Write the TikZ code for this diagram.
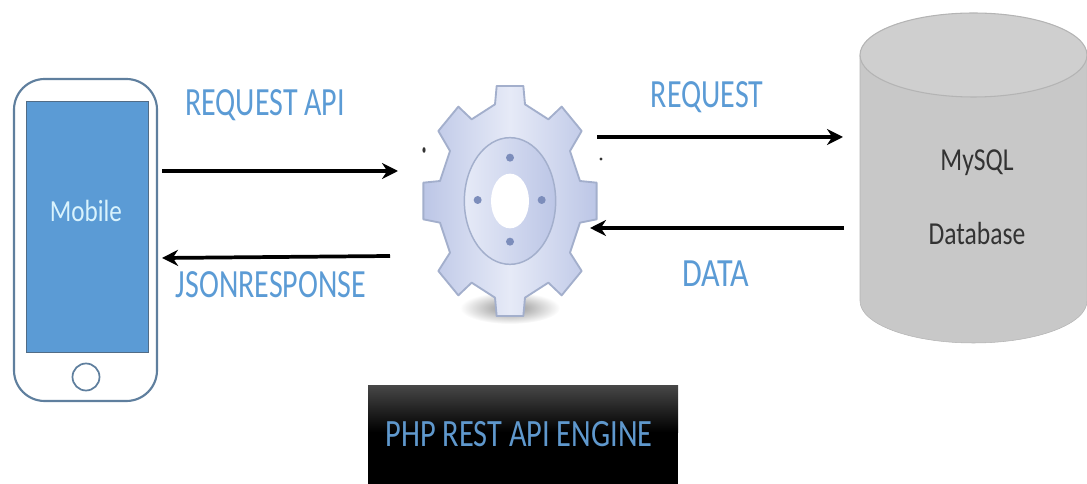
\documentclass[tikz,border=0pt]{standalone}
\usepackage{fontspec}
\setmainfont{Carlito}
\usetikzlibrary{arrows.meta,shapes.geometric}
\definecolor{lbl}{HTML}{5B9BD5}
\definecolor{phoneline}{HTML}{5F7F9E}
\definecolor{screen}{HTML}{5B9BD5}
\definecolor{cyl}{HTML}{C8C8C8}
\definecolor{cyltop}{HTML}{CFCFCF}
\definecolor{cyledge}{HTML}{B4B4B4}
\definecolor{gearedge}{HTML}{A3AFCC}
\definecolor{gearfill}{HTML}{BCC6E6}
\definecolor{gearhi}{HTML}{E6EAF7}
\definecolor{geardot}{HTML}{7C8DBB}
\tikzset{
  flow/.style={-{Stealth[length=12pt,width=12pt]},line width=2.8pt,black},
  lab/.style={text=lbl,font=\fontsize{30}{32}\selectfont,inner sep=0pt,xscale=.75},
  dark/.style={text=black!80,font=\fontsize{24}{26}\selectfont,inner sep=0pt,xscale=.8},
}
\begin{document}
\begin{tikzpicture}[x=.75pt,y=-.75pt]
\useasboundingbox (0,0) rectangle (1087,484);
% phone
\draw[phoneline,line width=1.6pt,fill=white,rounded corners=23pt] (14,79) rectangle (157,401);
\node[draw=phoneline!85!black,line width=1pt,fill=screen,minimum width=122*.75pt,minimum height=251*.75pt,inner sep=0pt,anchor=north west] (screen) at (26,101) {};
\node[text=white!85!cyan,font=\fontsize{23}{24}\selectfont,inner sep=0pt,xscale=.82] (mobile) at (86,211) {Mobile};
\node[draw=phoneline,line width=1.3pt,circle,minimum size=27*.75pt,inner sep=0pt] (home) at (86,377) {};
% gear shadow
\shade[inner color=black!45,outer color=white] (510,308) ellipse (50 and 16);
% gear
\coordinate (gear) at (510,201);
\begin{scope}[shift={(gear)},x=.25pt,y=-.25pt]
\path[draw=gearedge,line width=1.4pt,left color=gearfill,right color=gearfill,middle color=gearhi,line join=round]
 (-40,-345) -- (40,-345) -- (45,-290) -- (115,-245) -- (155,-283) -- (215,-210) -- (180,-150)
 -- (210,-60) -- (260,-55) -- (260,55) -- (210,65) -- (180,155) -- (215,210) -- (155,283)
 -- (115,245) -- (45,290) -- (40,345) -- (-40,345) -- (-45,290) -- (-115,245) -- (-155,283)
 -- (-215,210) -- (-180,155) -- (-210,65) -- (-260,55) -- (-260,-55) -- (-210,-60)
 -- (-180,-150) -- (-215,-210) -- (-155,-283) -- (-115,-245) -- (-45,-290) -- cycle;
\draw[gearedge,line width=1.1pt,left color=gearhi,right color=gearfill] (0,0) ellipse (137 and 190);
\fill[white] (0,0) ellipse (57 and 82);
\foreach \p in {(0,-130),(0,122),(-97,-3),(95,-3)} \fill[geardot] \p circle (12);
\end{scope}
% specks
\fill[black!80] (424,150) ellipse (1.6 and 2.8);
\fill[black!80] (601,159) circle (1.7);
% database
\fill[cyl,draw=cyledge] (860,55) -- (860,301) arc[start angle=180,end angle=0,x radius=113.5,y radius=42] -- (1087,55) -- cycle;
\node[ellipse,fill=cyltop,draw=cyledge,line width=.8pt,minimum width=227*.75pt,minimum height=84*.75pt,inner sep=0pt] (top) at (973.5,55) {};
\node[dark] (mysql) at (977,163) {MySQL};
\node[dark] (db) at (977,234) {Database};
% connector ends
\coordinate (a1) at (162,171); \coordinate (a2) at (398,171);
\coordinate (b1) at (390,256); \coordinate (b2) at (162,258);
\coordinate (c1) at (597,137); \coordinate (c2) at (843,137);
\coordinate (d1) at (844,228); \coordinate (d2) at (590,228);
\draw[flow] (a1) -- (a2);
\draw[flow] (b1) -- (b2);
\draw[flow] (c1) -- (c2);
\draw[flow] (d1) -- (d2);
% labels
\node[lab] (l1) at (265,105) {REQUEST API};
\node[lab] (l2) at (271,285) {JSONRESPONSE};
\node[lab] (l3) at (707,97) {REQUEST};
\node[lab,xscale=1.07] (l4) at (716,274) {DATA};
% engine box
\fill[black] (368,385) rectangle (678,484);
\shade[top color=black!72,bottom color=black] (368,385) rectangle (678,432);
\node[text=lbl!90!gray,font=\fontsize{29}{31}\selectfont,inner sep=0pt,xscale=.785] (engine) at (519,434) {PHP REST API ENGINE};
\end{tikzpicture}
\end{document}
